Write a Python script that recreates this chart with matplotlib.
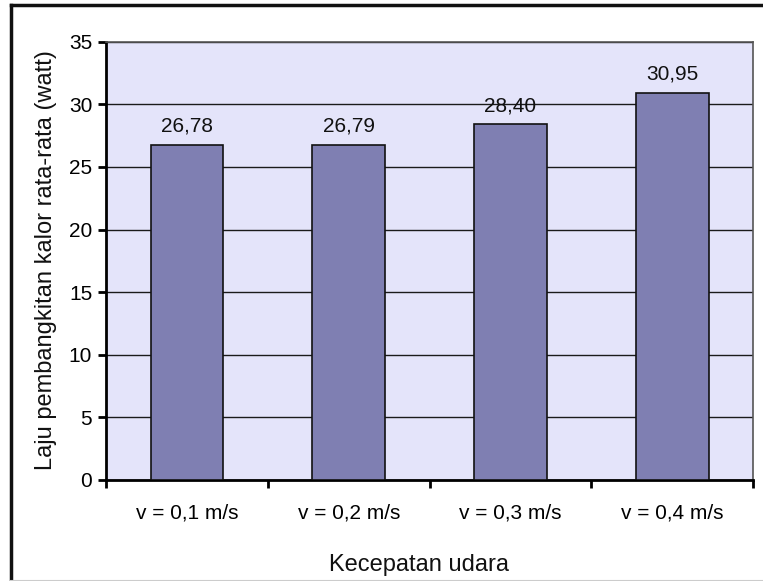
import matplotlib.pyplot as plt
from matplotlib.lines import Line2D
import numpy as np

plt.rcParams['font.family'] = ['Liberation Sans', 'DejaVu Sans']

categories = ['v = 0,1 m/s', 'v = 0,2 m/s', 'v = 0,3 m/s', 'v = 0,4 m/s']
values = [26.78, 26.79, 28.40, 30.95]
y_ticks = [0, 5, 10, 15, 20, 25, 30, 35]

fig = plt.figure(figsize=(7.63, 5.81), dpi=100)
ax = fig.add_axes([0.139, 0.174, 0.848, 0.754])
ax.set_facecolor('#E4E4FA')

x = np.arange(len(categories))
ax.bar(x, values, width=0.45, color='#7F7FB2', edgecolor='#111111',
       linewidth=1.2, zorder=3)

# value labels above each bar, decimal comma
for xi, v in zip(x, values):
    ax.annotate(f'{v:.2f}'.replace('.', ','), (xi, v), xytext=(0, 9.5),
                textcoords='offset points', ha='center', va='baseline',
                fontsize=15, color='#111111', zorder=4)

ax.set_xlim(-0.5, len(categories) - 0.5)
ax.set_ylim(0, 35)
ax.set_yticks(y_ticks)
ax.set_yticklabels([str(t) for t in y_ticks], fontsize=15)
ax.yaxis.grid(True, color='#1a1a1a', linewidth=1.0, zorder=1)
ax.set_axisbelow(True)

# category labels centred, ticks on the category boundaries
ax.set_xticks(x)
ax.set_xticklabels(categories, fontsize=15)
ax.tick_params(axis='x', length=0, pad=17)
ax.set_xticks(np.arange(len(categories) + 1) - 0.5, minor=True)
ax.tick_params(axis='x', which='minor', length=6, width=2, direction='out')
ax.tick_params(axis='y', length=6, width=2, direction='out', pad=4)

for side in ['left', 'bottom']:
    ax.spines[side].set_linewidth(2)
    ax.spines[side].set_color('black')
for side in ['top', 'right']:
    ax.spines[side].set_linewidth(1.2)
    ax.spines[side].set_color('#555555')

# axis titles
fig.text(419 / 763, 1 - 565 / 581, 'Kecepatan udara', fontsize=17,
         ha='center', va='center', color='#111111')
fig.text(46 / 763, 1 - 260 / 581, 'Laju pembangkitan kalor rata-rata (watt)',
         fontsize=17, rotation=90, ha='center', va='center', color='#111111')

# chart frame around the whole figure
fig.add_artist(Line2D([11 / 763, 11 / 763], [0, 1 - 5 / 581],
                      transform=fig.transFigure, color='#111111', linewidth=2.5))
fig.add_artist(Line2D([11 / 763, 1], [1 - 5 / 581, 1 - 5 / 581],
                      transform=fig.transFigure, color='#111111', linewidth=2.5))
fig.add_artist(Line2D([11 / 763, 1], [0.5 / 581, 0.5 / 581],
                      transform=fig.transFigure, color='#cccccc', linewidth=1.5))

fig.savefig('out.png', dpi=100)
